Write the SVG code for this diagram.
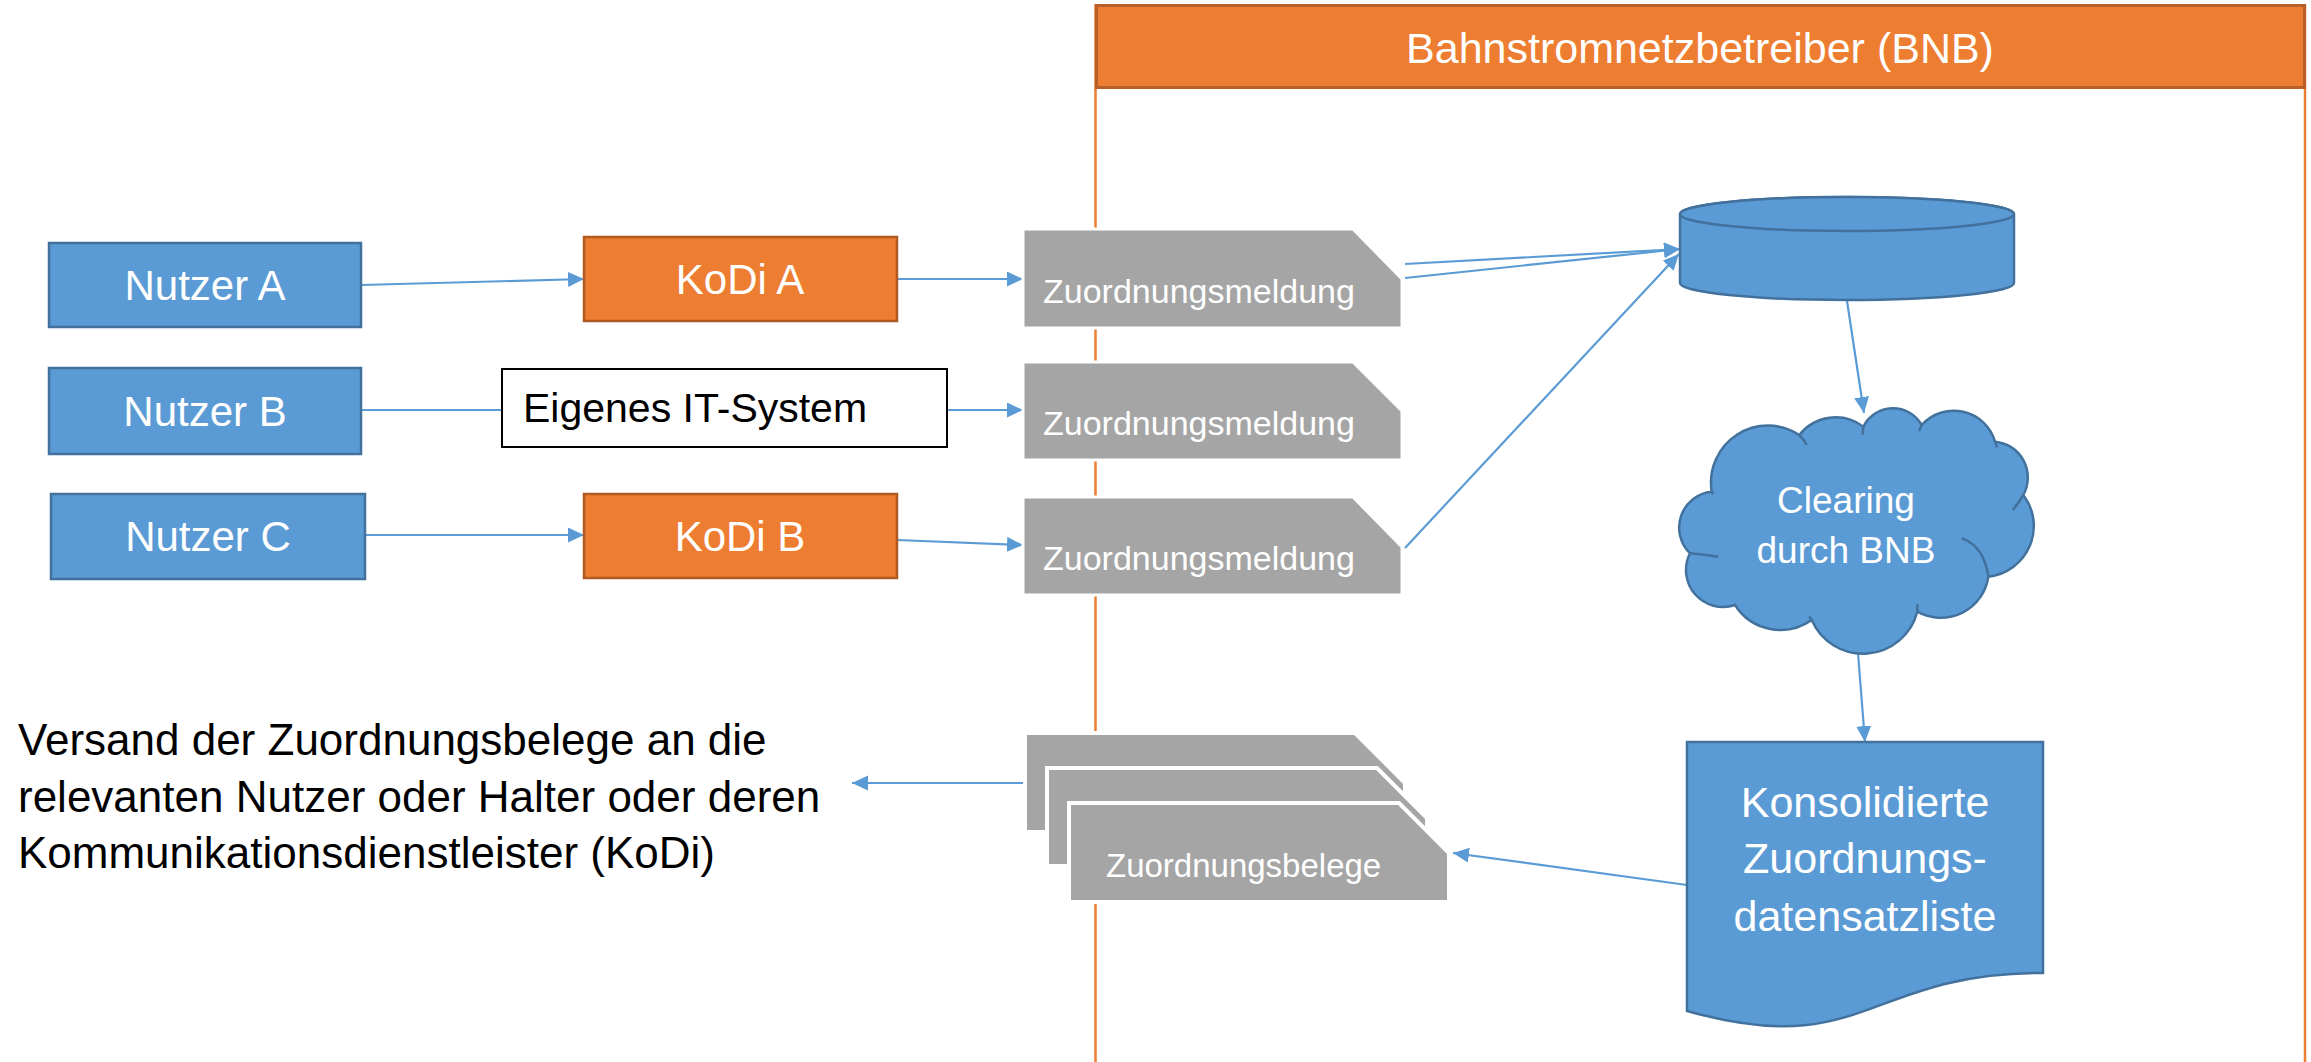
<svg xmlns="http://www.w3.org/2000/svg" width="2311" height="1062" viewBox="0 0 2311 1062">
<defs>
<style>
.blue{fill:#5b9bd5;stroke:#41719c;stroke-width:2.5}
.orange{fill:#ed7d31;stroke:#ae5a21;stroke-width:2.5}
.grey{fill:#a5a5a5;stroke:#ffffff;stroke-width:3}
.hair{fill:none;stroke:#41719c;stroke-width:2.5}
.conn{fill:none;stroke:#5b9bd5;stroke-width:2.2}
.arr{marker-end:url(#ah)}
text{font-family:"Liberation Sans",Arial,sans-serif}
.wl{fill:#ffffff;font-size:42px;text-anchor:middle}
.zm{fill:#ffffff;font-size:34px}
.bk{fill:#000000}
</style>
<marker id="ah" markerUnits="userSpaceOnUse" markerWidth="18" markerHeight="16" refX="16" refY="7.5" orient="auto">
<path d="M0,0 L16,7.5 L0,15 Z" fill="#5b9bd5"/>
</marker>
</defs>
<rect width="2311" height="1062" fill="#ffffff"/>

<g id="bnb-container">
<path d="M1095.5,4 V1062 M2305,4 V1062" fill="none" stroke="#ed7d31" stroke-width="2.5"/>
<rect x="1096.5" y="5.5" width="1208" height="82" fill="#ed7d31" stroke="#b9602a" stroke-width="3"/>
<text x="1700" y="63" style="fill:#ffffff;font-size:43px;text-anchor:middle">Bahnstromnetzbetreiber (BNB)</text>
</g>

<g id="connectors">
<line class="conn arr" x1="361" y1="285" x2="584" y2="279"/>
<line class="conn arr" x1="897" y1="279" x2="1023" y2="279"/>
<line class="conn" x1="361" y1="410" x2="502" y2="410"/>
<line class="conn arr" x1="947" y1="410" x2="1023" y2="410"/>
<line class="conn arr" x1="365" y1="535" x2="584" y2="535"/>
<line class="conn arr" x1="897" y1="540" x2="1023" y2="545"/>
<line class="conn arr" x1="1405" y1="264" x2="1680" y2="249"/>
<line class="conn arr" x1="1405" y1="278" x2="1680" y2="249"/>
<line class="conn arr" x1="1405" y1="548" x2="1679" y2="254"/>
<line class="conn arr" x1="1847" y1="301" x2="1864" y2="413"/>
<line class="conn arr" x1="1858" y1="653" x2="1865" y2="742"/>
<line class="conn arr" x1="1687" y1="885" x2="1453" y2="853"/>
<line class="conn arr" x1="1024" y1="783" x2="852" y2="783"/>
</g>

<g id="nutzer-a">
<rect class="blue" x="49" y="243" width="312" height="84"/>
<text class="wl" x="205" y="300">Nutzer A</text>
</g>
<g id="nutzer-b">
<rect class="blue" x="49" y="368" width="312" height="86"/>
<text class="wl" x="205" y="426">Nutzer B</text>
</g>
<g id="nutzer-c">
<rect class="blue" x="51" y="494" width="314" height="85"/>
<text class="wl" x="208" y="551">Nutzer C</text>
</g>
<g id="kodi-a">
<rect class="orange" x="584" y="237" width="313" height="84"/>
<text class="wl" x="740" y="294">KoDi A</text>
</g>
<g id="kodi-b">
<rect class="orange" x="584" y="494" width="313" height="84"/>
<text class="wl" x="740" y="551">KoDi B</text>
</g>
<g id="eigenes-it-system">
<rect x="502" y="369" width="445" height="78" fill="#ffffff" stroke="#000000" stroke-width="2"/>
<text class="bk" x="523" y="422" style="font-size:41px">Eigenes IT-System</text>
</g>

<g id="zuordnungsmeldung-1">
<path class="grey" d="M1023,229 H1353 L1402,279 V328 H1023 Z"/>
<text class="zm" x="1043" y="303">Zuordnungsmeldung</text>
</g>
<g id="zuordnungsmeldung-2">
<path class="grey" d="M1023,362 H1353 L1402,411 V460 H1023 Z"/>
<text class="zm" x="1043" y="435">Zuordnungsmeldung</text>
</g>
<g id="zuordnungsmeldung-3">
<path class="grey" d="M1023,497 H1353 L1402,547 V595 H1023 Z"/>
<text class="zm" x="1043" y="570">Zuordnungsmeldung</text>
</g>

<g id="datenbank">
<path class="blue" d="M1680,214 A167,17 0 0,1 2014,214 V283 A167,17 0 0,1 1680,283 Z"/>
<ellipse class="blue" cx="1847" cy="214" rx="167" ry="17"/>
</g>

<g id="clearing">
<path class="blue" d="M1799.3,435 A46,46 0 0,1 1863.3,426.7 A33,33 0 0,1 1921.7,425 A43,43 0 0,1 1995,441.7 A36,36 0 0,1 2023.3,495 A51,51 0 0,1 1988.3,576.7 A48,48 0 0,1 1917.3,611.7 A56,56 0 0,1 1811.7,620 A54,54 0 0,1 1735,605 A37,37 0 0,1 1690,553.3 A36,36 0 0,1 1711.7,491.7 A57,57 0 0,1 1799.3,435 Z"/>
<path class="hair" d="M1799.3,435 Q1803.5,439 1806.7,445 M1863.3,426.7 L1862.7,434.7 M1921.7,425 L1919,431 M1995,441.7 L1997.3,447.5 M2023.3,495 Q2018,504 2012.7,510 M1961.7,538.3 Q1984,546 1988.3,576.7 M1917.3,611.7 L1917.3,604 M1811.7,620 L1809.3,616.5 M1690,553.3 Q1705,554.5 1718.3,556.7 M1711.7,491.7 L1713.3,494"/>
<text class="wl" x="1846" y="513" style="font-size:37px">Clearing</text>
<text class="wl" x="1846" y="563" style="font-size:37px">durch BNB</text>
</g>

<g id="konsolidierte-liste">
<path class="blue" d="M1687,742 H2043 V973 C1865,973 1865,1061 1687,1011 Z"/>
<text class="wl" x="1865" y="817" style="font-size:43px">Konsolidierte</text>
<text class="wl" x="1865" y="873" style="font-size:43px">Zuordnungs-</text>
<text class="wl" x="1865" y="931" style="font-size:43px">datensatzliste</text>
</g>

<g id="zuordnungsbelege">
<path class="grey" style="stroke-width:4" d="M1025,733 H1355 L1405,783 V832 H1025 Z"/>
<path class="grey" style="stroke-width:4" d="M1047,768 H1377 L1427,818 V866 H1047 Z"/>
<path class="grey" style="stroke-width:4" d="M1069,803 H1399 L1449,853 V902 H1069 Z"/>
<text class="zm" x="1106" y="877" style="font-size:33px">Zuordnungsbelege</text>
</g>

<g id="versand-text">
<text class="bk" style="font-size:44px" x="18" y="755">Versand der Zuordnungsbelege an die</text>
<text class="bk" style="font-size:44px" x="18" y="812">relevanten Nutzer oder Halter oder deren</text>
<text class="bk" style="font-size:44px" x="18" y="868">Kommunikationsdienstleister (KoDi)</text>
</g>
</svg>
